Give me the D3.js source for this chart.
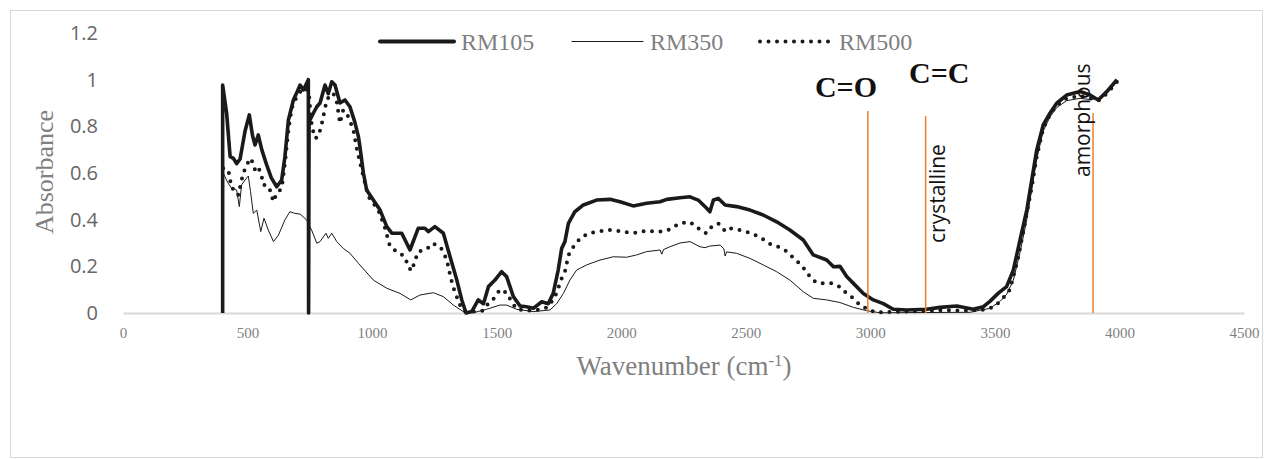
<!DOCTYPE html>
<html>
<head>
<meta charset="utf-8">
<script src="https://cdn.jsdelivr.net/npm/d3@7"></script>
<style>
  html, body { margin: 0; padding: 0; background: #fff; }
  svg { display: block; }
</style>
</head>
<body>
<svg id="chart" width="1264" height="459"></svg>
<script>
// ---------- data ----------
const seriesNames = ["RM105", "RM350", "RM500"];
const xTicks = [0, 500, 1000, 1500, 2000, 2500, 3000, 3500, 4000, 4500];
const yTicks = [0, 0.2, 0.4, 0.6, 0.8, 1, 1.2];

const rm105 = [[400,0],[400,0.977],[416,0.856],[430,0.67],[443,0.663],[456,0.64],[470,0.66],[490,0.78],[507,0.849],[520,0.76],[530,0.72],[543,0.763],[557,0.70],[575,0.64],[595,0.58],[617,0.541],[637,0.57],[650,0.67],[664,0.827],[684,0.913],[700,0.95],[711,0.977],[724,0.956],[744,1.0],[745,0],[747,0.82],[764,0.856],[778,0.884],[791,0.9],[811,0.977],[824,0.94],[838,0.991],[851,0.977],[871,0.9],[891,0.913],[911,0.884],[930,0.82],[945,0.756],[951,0.713],[965,0.6],[978,0.527],[1005,0.484],[1032,0.441],[1059,0.37],[1079,0.342],[1119,0.342],[1152,0.27],[1185,0.363],[1212,0.363],[1226,0.349],[1252,0.37],[1286,0.342],[1313,0.241],[1340,0.141],[1360,0.056],[1377,0.0],[1400,0.006],[1426,0.056],[1447,0.04],[1467,0.113],[1493,0.141],[1520,0.177],[1540,0.156],[1567,0.07],[1594,0.03],[1620,0.027],[1647,0.02],[1681,0.048],[1707,0.04],[1727,0.084],[1747,0.184],[1761,0.277],[1774,0.306],[1788,0.384],[1814,0.434],[1848,0.463],[1901,0.484],[1955,0.487],[1995,0.477],[2048,0.459],[2102,0.47],[2156,0.477],[2183,0.487],[2236,0.494],[2276,0.498],[2309,0.484],[2343,0.449],[2356,0.434],[2370,0.484],[2390,0.491],[2417,0.463],[2463,0.456],[2517,0.441],[2570,0.42],[2624,0.391],[2677,0.356],[2731,0.313],[2771,0.249],[2825,0.227],[2852,0.198],[2878,0.2],[2905,0.156],[2932,0.127],[2972,0.084],[3012,0.056],[3052,0.04],[3092,0.016],[3146,0.013],[3226,0.016],[3280,0.024],[3347,0.03],[3413,0.016],[3454,0.027],[3480,0.05],[3514,0.085],[3547,0.113],[3574,0.184],[3601,0.313],[3628,0.441],[3648,0.57],[3668,0.699],[3694,0.806],[3721,0.856],[3748,0.899],[3788,0.934],[3842,0.949],[3882,0.934],[3915,0.913],[3949,0.949],[3990,1.0]];

const rm350 = [[402,0.6],[420,0.56],[436,0.534],[456,0.527],[467,0.456],[476,0.549],[490,0.57],[503,0.587],[512,0.52],[523,0.427],[537,0.441],[553,0.349],[566,0.406],[583,0.356],[604,0.306],[624,0.334],[650,0.399],[670,0.434],[690,0.427],[711,0.424],[737,0.399],[757,0.356],[778,0.299],[791,0.306],[815,0.342],[824,0.32],[838,0.342],[858,0.306],[884,0.277],[911,0.256],[945,0.213],[1005,0.141],[1059,0.106],[1112,0.084],[1155,0.056],[1192,0.077],[1246,0.087],[1286,0.07],[1326,0.034],[1366,0.006],[1406,0.001],[1460,0.016],[1513,0.034],[1540,0.034],[1580,0.016],[1647,0.006],[1714,0.013],[1741,0.04],[1768,0.084],[1794,0.141],[1821,0.184],[1861,0.206],[1915,0.227],[1968,0.241],[2022,0.239],[2062,0.249],[2102,0.263],[2156,0.27],[2163,0.252],[2170,0.272],[2196,0.284],[2236,0.3],[2276,0.306],[2316,0.284],[2336,0.28],[2356,0.287],[2397,0.291],[2412,0.275],[2417,0.244],[2423,0.262],[2463,0.256],[2517,0.234],[2570,0.206],[2624,0.177],[2677,0.141],[2731,0.091],[2771,0.063],[2825,0.056],[2878,0.045],[2932,0.024],[2985,0.01],[3039,0.001],[3200,0.002],[3400,0.003],[3480,0.02],[3521,0.05],[3547,0.08],[3574,0.14],[3601,0.26],[3628,0.4],[3648,0.53],[3668,0.66],[3694,0.78],[3721,0.84],[3748,0.88],[3788,0.91],[3842,0.92],[3882,0.915],[3915,0.92],[3949,0.94],[3990,0.99]];

const rm500 = [[402,0.62],[423,0.613],[430,0.57],[436,0.534],[450,0.53],[463,0.506],[470,0.541],[483,0.6],[497,0.634],[510,0.663],[523,0.642],[530,0.613],[543,0.627],[557,0.584],[563,0.549],[577,0.549],[590,0.527],[604,0.477],[617,0.513],[637,0.534],[650,0.642],[664,0.784],[677,0.877],[697,0.927],[717,0.956],[731,0.963],[745,0.95],[758,0.8],[771,0.749],[784,0.756],[797,0.806],[818,0.913],[831,0.934],[844,0.942],[858,0.906],[871,0.813],[884,0.87],[905,0.841],[925,0.784],[938,0.706],[965,0.584],[985,0.499],[1005,0.47],[1025,0.441],[1052,0.363],[1072,0.284],[1105,0.259],[1132,0.241],[1145,0.198],[1159,0.18],[1172,0.224],[1185,0.263],[1219,0.273],[1243,0.299],[1275,0.282],[1293,0.244],[1306,0.201],[1313,0.163],[1324,0.116],[1337,0.077],[1353,0.034],[1373,0.006],[1413,0.006],[1447,0.01],[1467,0.042],[1493,0.066],[1513,0.101],[1540,0.087],[1560,0.048],[1580,0.016],[1620,0.01],[1680,0.015],[1707,0.027],[1734,0.07],[1747,0.106],[1761,0.149],[1774,0.177],[1781,0.213],[1792,0.259],[1810,0.287],[1835,0.32],[1868,0.342],[1908,0.349],[1948,0.356],[1982,0.353],[2022,0.346],[2062,0.344],[2099,0.353],[2136,0.349],[2167,0.349],[2199,0.36],[2229,0.381],[2269,0.391],[2296,0.377],[2323,0.349],[2343,0.342],[2363,0.37],[2390,0.384],[2417,0.351],[2430,0.363],[2463,0.359],[2501,0.349],[2533,0.337],[2568,0.317],[2600,0.294],[2631,0.284],[2662,0.266],[2691,0.237],[2718,0.21],[2742,0.18],[2765,0.144],[2791,0.127],[2822,0.127],[2849,0.127],[2876,0.113],[2905,0.084],[2932,0.063],[2962,0.03],[2985,0.02],[3019,0.002],[3100,0.005],[3200,0.008],[3300,0.012],[3400,0.01],[3470,0.015],[3500,0.03],[3530,0.06],[3560,0.1],[3590,0.22],[3620,0.38],[3648,0.54],[3668,0.67],[3694,0.79],[3721,0.85],[3748,0.89],[3788,0.92],[3842,0.93],[3882,0.92],[3915,0.91],[3949,0.94],[3990,0.99]];

// marker lines (wavenumber, top absorbance) and their labels
const markerWn = [2990, 3222, 3894];
const markerTop = [0.866, 0.844, 0.857];
const bondLabels = ["C=O", "C=C"];
const phaseLabels = ["crystalline", "amorphous"];

// ---------- chart ----------
const svg = d3.select("#chart");
const W = 1264, H = 459;
const x = d3.scaleLinear().domain([0, 4500]).range([123, 1244]);
const y = d3.scaleLinear().domain([0, 1.2]).range([313, 33]);
const gray = "#7f7f7f";
const serif = "'Liberation Serif', 'Times New Roman', serif";
const sans = "'Open Sans', 'Noto Sans', sans-serif";

// outer border
svg.append("rect").attr("x", 10.5).attr("y", 10.5).attr("width", W - 12).attr("height", H - 12)
  .attr("fill", "none").attr("stroke", "#d9d9d9").attr("stroke-width", 1);

// x axis
const xAxis = svg.append("g").attr("transform", `translate(0,${y(0)})`)
  .call(d3.axisBottom(x).tickValues(xTicks).tickSize(0).tickSizeOuter(0).tickPadding(14).tickFormat(d3.format("d")));
xAxis.select(".domain").attr("stroke", "#d9d9d9").attr("stroke-width", 2);
xAxis.selectAll("text").attr("fill", gray).style("font-family", serif).style("font-size", "15px");

// y axis
const yAxis = svg.append("g").attr("transform", `translate(${x(0)},0)`)
  .call(d3.axisLeft(y).tickValues(yTicks).tickSize(0).tickPadding(25).tickFormat(d3.format("~g")));
yAxis.select(".domain").remove();
yAxis.selectAll("text").attr("fill", "#666").style("font-family", sans).style("font-size", "20px");

// axis titles
svg.append("text").attr("transform", "translate(53,172) rotate(-90)")
  .attr("text-anchor", "middle").attr("fill", gray)
  .style("font-family", serif).style("font-size", "26px").text("Absorbance");

const xt = svg.append("text").attr("x", 684).attr("y", 375).attr("text-anchor", "middle")
  .attr("fill", gray).style("font-family", serif).style("font-size", "27px");
xt.append("tspan").text("Wavenumber (cm");
xt.append("tspan").attr("baseline-shift", "super").style("font-size", "17px").text("-1");
xt.append("tspan").text(")");

// series
const line = d3.line().x(d => x(d[0])).y(d => y(d[1]));
const styles = [
  { data: rm105, w: 3.6, dash: null, cap: "butt" },
  { data: rm350, w: 1, dash: null, cap: "butt" },
  { data: rm500, w: 4, dash: "0,8.5", cap: "round" }
];
// draw thin, then dotted, then thick
[1, 2, 0].forEach(i => {
  const s = styles[i];
  svg.append("path").datum(s.data).attr("d", line)
    .attr("fill", "none").attr("stroke", "#1a1a1a")
    .attr("stroke-width", s.w).attr("stroke-linejoin", "round")
    .attr("stroke-linecap", s.cap)
    .attr("stroke-dasharray", s.dash);
});

// orange marker lines
markerWn.forEach((wn, i) => {
  svg.append("line").attr("x1", x(wn)).attr("x2", x(wn)).attr("y1", y(markerTop[i])).attr("y2", y(0))
    .attr("stroke", "#ED7D31").attr("stroke-width", 1.5);
});

// bond labels
svg.append("text").attr("x", 877).attr("y", 97).attr("text-anchor", "end")
  .style("font-family", serif).style("font-weight", "bold").style("font-size", "30px")
  .attr("fill", "#111").text(bondLabels[0]);
svg.append("text").attr("x", 909).attr("y", 83).attr("text-anchor", "start")
  .style("font-family", serif).style("font-weight", "bold").style("font-size", "30px")
  .attr("fill", "#111").text(bondLabels[1]);

// phase labels (rotated)
svg.append("text").attr("transform", "translate(945,243) rotate(-90)")
  .style("font-family", sans).style("font-size", "21px").attr("fill", "#111").text(phaseLabels[0]);
svg.append("text").attr("transform", "translate(1090,177) rotate(-90)")
  .style("font-family", sans).style("font-size", "21px").attr("fill", "#111").text(phaseLabels[1]);

// legend
const legendX = [380, 572, 760];
const legendLen = [74, 71, 72];
const legY = 41.5;
seriesNames.forEach((name, i) => {
  const s = styles[i];
  svg.append("line").attr("x1", legendX[i]).attr("x2", legendX[i] + legendLen[i])
    .attr("y1", legY).attr("y2", legY)
    .attr("stroke", "#1a1a1a").attr("stroke-width", i === 0 ? 4 : s.w)
    .attr("stroke-linecap", "round")
    .attr("stroke-dasharray", s.dash);
  svg.append("text").attr("x", legendX[i] + legendLen[i] + 7).attr("y", 50)
    .attr("fill", gray).style("font-family", serif).style("font-size", "24px").text(name);
});
</script>
</body>
</html>
